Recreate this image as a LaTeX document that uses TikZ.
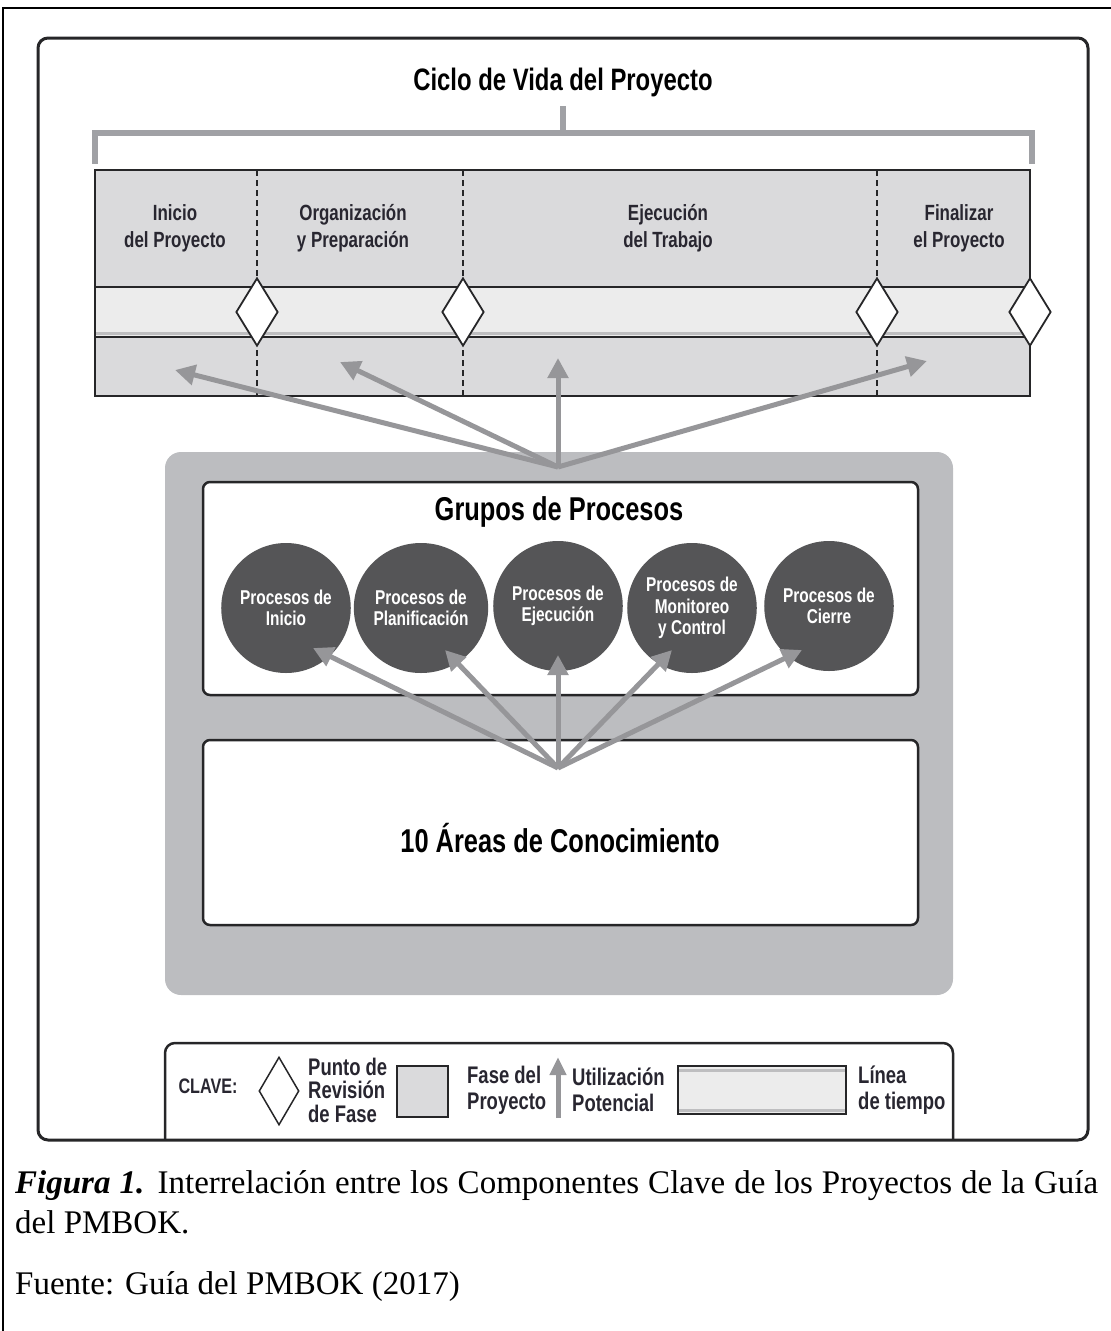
\documentclass[tikz,border=0pt]{standalone}
\usepackage{fontspec}
\setmainfont{Liberation Serif}
\newfontfamily\condsans[FakeStretch=0.77]{Liberation Sans}
\usetikzlibrary{arrows.meta,shapes.geometric}

\definecolor{inkdark}{RGB}{38,38,40}
\definecolor{labelink}{RGB}{40,38,48}
\definecolor{bracketgray}{RGB}{160,161,165}
\definecolor{phasefill}{RGB}{218,218,220}
\definecolor{bandfill}{RGB}{236,236,236}
\definecolor{bandshade}{RGB}{190,190,192}
\definecolor{arrowgray}{RGB}{150,150,153}
\definecolor{boxgray}{RGB}{188,189,192}
\definecolor{circfill}{RGB}{85,85,87}

\tikzset{
  heading/.style={font=\condsans\bfseries\fontsize{33}{38}\selectfont, text=black, inner sep=0pt},
  phaselbl/.style={font=\condsans\bfseries\fontsize{22}{27}\selectfont, text=labelink, align=center, inner sep=0pt},
  procbubble/.style={ellipse, fill=circfill, minimum width=122pt, minimum height=130pt, inner sep=0pt,
    text=white, align=center, font=\condsans\bfseries\fontsize{20}{21.5}\selectfont},
  checkpt/.style={diamond, draw=inkdark, line width=1.8pt, fill=white, minimum width=42pt, minimum height=68pt, inner sep=0pt},
  flow/.style={draw=arrowgray, line width=5pt, -{Triangle[length=20pt,width=20pt]}},
  keytext/.style={font=\condsans\bfseries\fontsize{24}{23.5}\selectfont, text=labelink, align=left, inner sep=0pt, anchor=west},
  keytexttwo/.style={keytext, font=\condsans\bfseries\fontsize{24}{26}\selectfont},
  divider/.style={draw=inkdark, line width=1.6pt, dash pattern=on 6pt off 4pt},
  whitebox/.style={draw=inkdark, line width=2.5pt, fill=white, rounded corners=7pt},
}

\begin{document}
\begin{tikzpicture}[x=1pt,y=-1pt]
\useasboundingbox (0,0) rectangle (1111,1331);

% outer table cell lines
\draw[black, line width=2.5pt] (3,1331) -- (3,8) -- (1111,8);

% figure frame
\draw[inkdark, line width=3pt, rounded corners=10pt] (38,38) rectangle (1088,1140);

% life-cycle title and bracket
\node[heading, font=\condsans\bfseries\fontsize{31}{36}\selectfont] (lifecycle) at (563,82) {Ciclo de Vida del Proyecto};
\draw[bracketgray, line width=6pt, line cap=butt] (95,164) -- (95,133) -- (1032,133) -- (1032,164);
\draw[bracketgray, line width=6pt] (563,106) -- (563,133);

% phase table
\fill[phasefill] (95,170) rectangle (1030,396);
\fill[bandfill] (95,287) rectangle (1030,337);
\draw[bandshade, line width=3pt] (95,333) -- (1030,333);
\draw[inkdark, line width=2.5pt] (95,287) -- (1030,287);
\draw[inkdark, line width=2.5pt] (95,337) -- (1030,337);
\draw[inkdark, line width=2pt] (95,170) rectangle (1030,396);
\foreach \xx in {257,463,877}{
  \draw[divider] (\xx,170) -- (\xx,396);
}
\node[checkpt] (gate1) at (257,312) {};
\node[checkpt] (gate2) at (463,312) {};
\node[checkpt] (gate3) at (877,312) {};
\node[checkpt] (gate4) at (1030,312) {};

\node[phaselbl] (ph1) at (175,228) {Inicio\\del Proyecto};
\node[phaselbl] (ph2) at (353,228) {Organización\\y Preparación};
\node[phaselbl] (ph3) at (668,228) {Ejecución\\del Trabajo};
\node[phaselbl] (ph4) at (959,228) {Finalizar\\el Proyecto};

% process-group container
\fill[boxgray, rounded corners=16pt] (165,452) rectangle (953,995);
\draw[whitebox] (203,482) rectangle (918,695);
\draw[whitebox] (203,740) rectangle (918,925);

\node[heading] (groups) at (559,512) {Grupos de Procesos};
\node[heading] (areas) at (560,838) {10 Áreas de Conocimiento};

\node[procbubble] (pg1) at (286,608) {Procesos de\\Inicio};
\node[procbubble] (pg2) at (421,608) {Procesos de\\Planificación};
\node[procbubble] (pg3) at (558,606) {Procesos de\\Ejecución};
\node[procbubble] (pg4) at (692,608) {Procesos de\\Monitoreo\\y Control};
\node[procbubble] (pg5) at (829,606) {Procesos de\\Cierre};

% potential use arrows
\coordinate (hubtop) at (558,467);
\coordinate (use1) at (175,370);
\coordinate (use2) at (340,362);
\coordinate (use3) at (558,358);
\coordinate (use4) at (927,361);
\foreach \t in {use1,use2,use3,use4}{
  \draw[flow] (hubtop) -- (\t);
}

\coordinate (hubbot) at (558,768);
\coordinate (tip1) at (313,648);
\coordinate (tip2) at (445,650);
\coordinate (tip3) at (558,655);
\coordinate (tip4) at (672,650);
\coordinate (tip5) at (802,650);
\foreach \t in {tip1,tip2,tip3,tip4,tip5}{
  \draw[flow] (hubbot) -- (\t);
}

% key
\draw[inkdark, line width=2.5pt, rounded corners=10pt] (165,1140) -- (165,1043) -- (953,1043) -- (953,1140);
\node[font=\condsans\bfseries\fontsize{21}{24}\selectfont, text=labelink, inner sep=0pt] (keyhead) at (208,1086) {CLAVE:};
\node[checkpt, line width=1.5pt, minimum width=40pt, minimum height=68pt] (keygate) at (279,1091) {};
\node[keytext] (keygatetxt) at (308,1090) {Punto de\\Revisión\\de Fase};
\draw[inkdark, line width=2pt, fill=phasefill] (397,1066) rectangle (448,1117);
\node[keytexttwo] (keyphasetxt) at (467,1090) {Fase del\\Proyecto};
\coordinate (keyarrowfoot) at (558,1118);
\coordinate (keyarrowtip) at (558,1057);
\draw[draw=arrowgray, line width=5pt, -{Triangle[length=18pt,width=16pt]}] (keyarrowfoot) -- (keyarrowtip);
\node[keytexttwo] (keyusetxt) at (572,1090) {Utilización\\Potencial};
\fill[bandfill] (678,1066) rectangle (846,1114);
\draw[bandshade, line width=3pt] (679,1070) -- (845,1070);
\draw[bandshade, line width=3pt] (679,1110) -- (845,1110);
\draw[inkdark, line width=2pt] (678,1066) rectangle (846,1114);
\node[keytexttwo] (keylinetxt) at (858,1090) {Línea\\de tiempo};

% caption
\node[anchor=base west, inner sep=0pt, font=\fontsize{33}{40}\selectfont] (caption1) at (15,1193)
  {\makebox[1083pt][s]{\textbf{\textit{Figura 1.}} Interrelación entre los Componentes Clave de los Proyectos de la Guía}};
\node[anchor=base west, inner sep=0pt, font=\fontsize{33}{40}\selectfont] (caption2) at (15,1233) {del PMBOK.};
\node[anchor=base west, inner sep=0pt, font=\fontsize{33}{40}\selectfont] (source) at (15,1294) {Fuente: Guía del PMBOK (2017)};
\end{tikzpicture}
\end{document}
